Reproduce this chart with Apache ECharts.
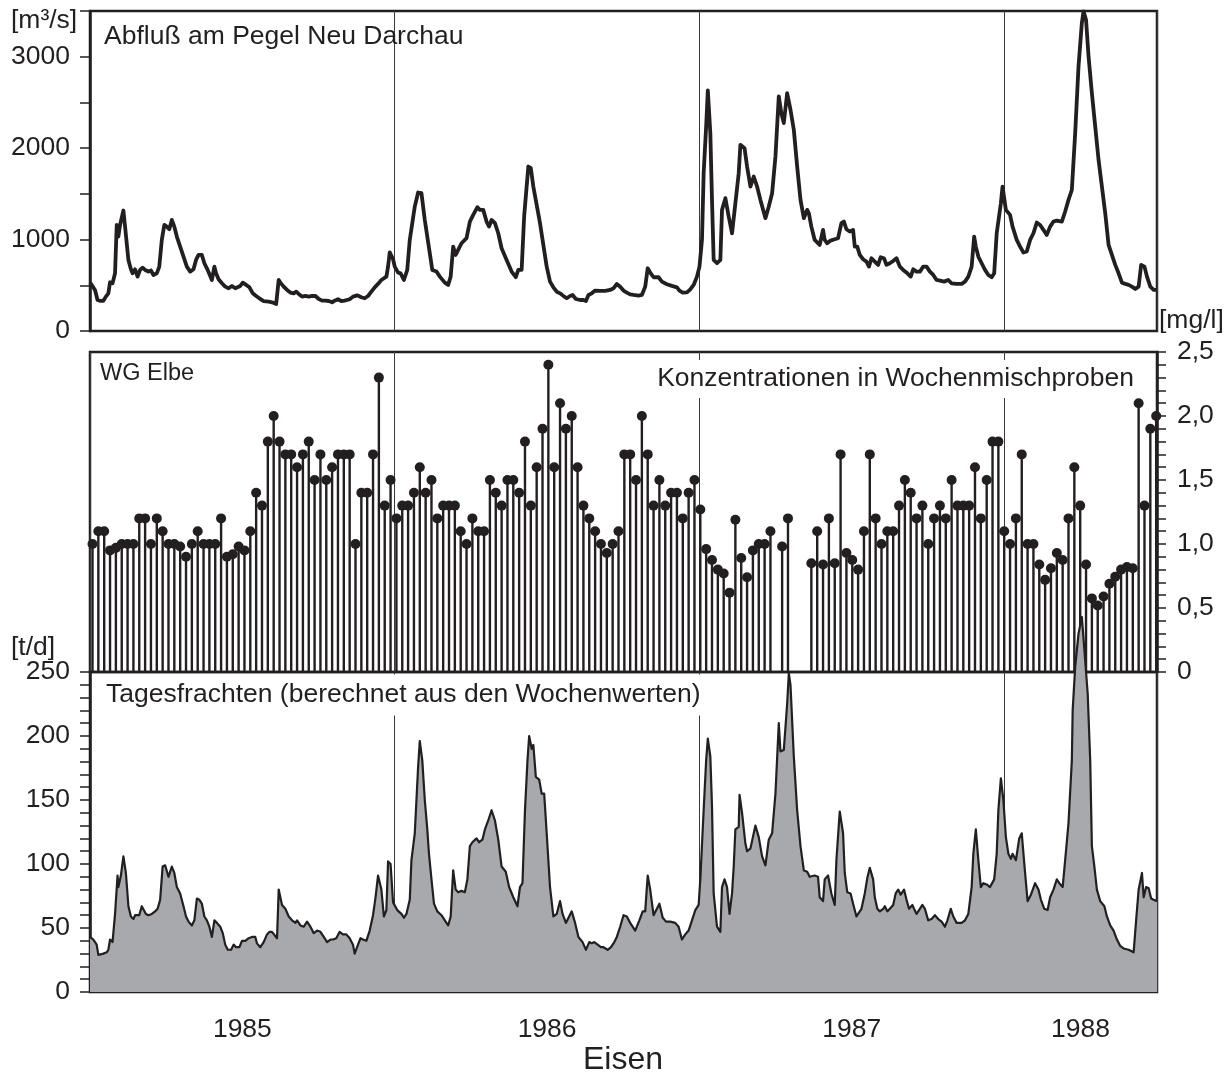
<!DOCTYPE html>
<html><head><meta charset="utf-8">
<script src="https://cdn.jsdelivr.net/npm/echarts@6/dist/echarts.min.js"></script>
<style>html,body{margin:0;padding:0;background:#fff}#c{width:1232px;height:1077px}</style>
</head><body><div id="c"></div>
<script>
const FONT = '"Liberation Sans", Arial, Helvetica, sans-serif';
const INK = '#231f20';

// x values are days since 1 Jan 1985
const xEndDay = 1278;
const yearTickLabels = ['1985', '1986', '1987', '1988'];
const yearTickDays = [182.5, 547.5, 912.5, 1186.25];

// Abfluss am Pegel Neu Darchau [m3/s]: [day, value]
const abfluss = [[0,529],[2,504],[6,449],[9,340],[12,330],[16,330],[19,376],[22,412],[24,533],[27,522],[30,631],[32,1160],[34,1033],[36,1160],[40,1318],[42,1142],[46,777],[49,675],[51,631],[54,675],[57,595],[60,668],[63,693],[66,668],[70,650],[73,661],[76,613],[80,631],[83,704],[86,996],[89,1160],[92,1142],[95,1113],[98,1215],[101,1142],[104,1033],[108,923],[112,814],[116,704],[120,650],[124,675],[127,777],[130,832],[134,832],[137,741],[140,686],[143,624],[146,558],[149,704],[151,631],[154,566],[158,522],[162,485],[166,467],[170,493],[174,467],[176,449],[180,493],[183,529],[187,504],[191,478],[195,412],[199,383],[204,350],[208,328],[214,321],[218,314],[223,296],[226,558],[228,529],[232,485],[236,449],[240,420],[244,412],[247,430],[250,405],[254,376],[258,383],[262,376],[266,383],[270,383],[274,350],[278,332],[282,332],[286,328],[290,314],[293,332],[297,347],[301,328],[305,332],[311,347],[315,376],[320,390],[325,369],[329,358],[333,383],[337,430],[341,478],[345,515],[349,558],[355,595],[357,704],[359,860],[363,785],[365,704],[369,639],[372,631],[376,558],[380,668],[383,996],[389,1361],[393,1515],[397,1507],[401,1215],[407,850],[410,668],[415,650],[419,595],[425,529],[429,504],[432,595],[435,923],[438,832],[441,887],[445,960],[451,1015],[455,1197],[459,1270],[464,1354],[467,1325],[471,1325],[475,1197],[478,1142],[481,1215],[485,1179],[489,1069],[493,905],[499,777],[505,650],[510,588],[513,668],[517,668],[520,1252],[525,1799],[528,1781],[531,1580],[539,1179],[547,704],[551,540],[555,478],[559,430],[563,412],[568,376],[571,358],[575,383],[578,394],[582,350],[587,339],[591,339],[594,328],[597,394],[601,412],[605,442],[611,438],[617,438],[623,449],[627,467],[631,515],[635,485],[639,442],[643,420],[647,401],[651,394],[657,387],[661,394],[665,485],[668,686],[671,639],[675,588],[681,588],[685,540],[691,511],[697,493],[703,478],[706,442],[710,420],[715,423],[719,456],[723,504],[727,595],[730,704],[733,996],[735,1726],[738,2237],[740,2631],[743,2164],[745,1434],[747,777],[751,741],[755,777],[757,1325],[761,1453],[765,1252],[769,1069],[773,1398],[777,1726],[779,2036],[784,2000],[787,1799],[791,1580],[795,1690],[799,1580],[803,1434],[809,1234],[813,1361],[817,1507],[821,1909],[825,2566],[828,2383],[831,2274],[835,2602],[839,2420],[843,2201],[847,1799],[851,1434],[855,1234],[859,1325],[861,1288],[864,1142],[868,996],[874,942],[878,1106],[880,996],[883,960],[887,989],[892,1004],[896,1015],[900,1179],[903,1197],[906,1113],[910,1088],[914,1106],[916,923],[919,923],[922,832],[926,785],[930,759],[933,704],[936,796],[940,759],[944,723],[947,807],[951,796],[954,723],[958,741],[962,766],[966,796],[970,704],[974,668],[979,631],[983,595],[986,675],[990,650],[994,650],[998,704],[1002,704],[1006,650],[1010,613],[1014,558],[1018,551],[1023,540],[1028,558],[1032,522],[1038,515],[1044,515],[1048,540],[1052,595],[1056,704],[1059,1033],[1061,923],[1064,814],[1068,741],[1072,668],[1076,613],[1080,588],[1083,631],[1086,1069],[1091,1398],[1093,1580],[1097,1325],[1102,1270],[1105,1142],[1110,996],[1114,923],[1118,858],[1122,869],[1126,996],[1130,1069],[1134,1186],[1138,1160],[1142,1106],[1146,1051],[1150,1142],[1154,1197],[1158,1208],[1164,1197],[1168,1307],[1172,1434],[1176,1544],[1180,2164],[1184,2894],[1188,3369],[1190,3496],[1193,3405],[1196,3004],[1200,2602],[1204,2237],[1208,1872],[1212,1580],[1216,1288],[1220,942],[1224,832],[1228,723],[1232,631],[1236,529],[1240,515],[1244,504],[1248,485],[1252,460],[1256,485],[1259,723],[1263,704],[1266,595],[1270,485],[1274,449],[1278,449]];

// Konzentrationen in Wochenmischproben [mg/l], one per week (null = no sample)
const firstSampleDay = 3;
const sampleStepDays = 7;
const konzentration = [
  1.0,1.1,1.1,0.95,0.97,1.0,1.0,1.0,1.2,1.2,
  1.0,1.2,1.1,1.0,1.0,0.98,0.9,1.0,1.1,1.0,
  1.0,1.0,1.2,0.9,0.92,0.98,0.95,1.1,1.4,1.3,
  1.8,2.0,1.8,1.7,1.7,1.6,1.7,1.8,1.5,1.7,
  1.5,1.6,1.7,1.7,1.7,1.0,1.4,1.4,1.7,2.3,
  1.3,1.5,1.2,1.3,1.3,1.4,1.6,1.4,1.5,1.2,
  1.3,1.3,1.3,1.1,1.0,1.2,1.1,1.1,1.5,1.4,
  1.3,1.5,1.5,1.4,1.8,1.3,1.6,1.9,2.4,1.6,
  2.1,1.9,2.0,1.6,1.3,1.2,1.1,1.0,0.93,1.0,
  1.1,1.7,1.7,1.5,2.0,1.7,1.3,1.5,1.3,1.4,
  1.4,1.2,1.4,1.5,1.27,0.96,0.875,0.8,0.77,0.62,
  1.19,0.89,0.74,0.95,1.0,1.0,1.1,null,0.98,1.2,
  null,null,null,0.85,1.1,0.84,1.2,0.85,1.7,0.93,
  0.875,0.8,1.1,1.7,1.2,1.0,1.1,1.1,1.3,1.5,
  1.4,1.2,1.3,1.0,1.2,1.3,1.2,1.5,1.3,1.3,
  1.3,1.6,1.2,1.5,1.8,1.8,1.1,1.0,1.2,1.7,
  1.0,1.0,0.84,0.72,0.81,0.93,0.875,1.2,1.6,1.3,
  0.84,0.575,0.52,0.59,0.69,0.745,0.8,0.82,0.81,2.1,
  1.3,1.9,2.0
];

// Tagesfrachten [t/d]: [day, value]
const tagesfracht = [[0,43],[4,41],[8,37],[10,29],[16,30],[20,31],[22,33],[24,41],[27,39],[30,61],[33,91],[34,82],[37,91],[40,106],[43,93],[46,67],[49,59],[52,57],[54,60],[56,59],[59,60],[62,67],[64,67],[67,61],[70,60],[74,61],[78,63],[81,65],[84,72],[87,98],[90,99],[94,90],[98,98],[101,93],[104,82],[108,77],[112,67],[115,59],[118,55],[122,52],[125,56],[128,73],[131,72],[134,69],[137,59],[140,56],[143,51],[146,43],[149,56],[152,54],[156,51],[159,46],[162,37],[165,33],[169,33],[172,37],[175,35],[179,35],[182,40],[186,40],[190,42],[194,43],[198,43],[200,38],[204,35],[208,39],[212,45],[215,47],[218,47],[220,48],[224,42],[226,80],[228,81],[230,68],[234,65],[238,59],[242,56],[246,54],[248,56],[252,52],[256,51],[260,55],[264,51],[268,46],[272,48],[276,47],[280,43],[284,39],[288,41],[291,41],[295,42],[299,47],[303,45],[307,45],[311,42],[315,37],[317,30],[321,37],[324,42],[327,41],[331,40],[335,48],[339,60],[342,74],[345,91],[349,80],[352,59],[355,64],[357,102],[360,100],[363,70],[368,64],[373,61],[376,58],[379,61],[383,72],[385,103],[389,124],[393,176],[395,196],[398,181],[401,150],[404,127],[406,108],[409,88],[412,69],[416,63],[421,60],[425,56],[429,52],[432,59],[435,95],[438,80],[441,78],[445,79],[449,78],[452,88],[455,114],[458,117],[463,120],[466,117],[470,119],[473,127],[477,134],[481,142],[485,134],[489,119],[493,98],[498,94],[502,82],[507,74],[512,67],[515,82],[518,85],[521,142],[524,181],[526,200],[529,190],[531,193],[534,168],[538,166],[541,155],[544,155],[547,124],[551,82],[555,59],[559,61],[563,71],[566,61],[570,54],[577,63],[581,54],[585,43],[590,39],[594,33],[598,39],[601,38],[604,39],[608,37],[612,35],[615,35],[620,33],[624,35],[628,39],[631,43],[635,51],[639,60],[643,59],[647,54],[653,48],[658,56],[662,63],[665,63],[668,91],[671,80],[675,60],[679,65],[682,69],[686,58],[690,55],[695,55],[701,54],[705,51],[709,41],[713,45],[717,48],[721,56],[725,64],[729,68],[731,88],[735,142],[738,181],[740,198],[743,184],[745,145],[747,77],[751,51],[755,47],[757,82],[760,88],[763,82],[766,61],[769,77],[771,98],[773,127],[777,129],[778,154],[781,140],[785,116],[787,110],[791,112],[797,130],[801,121],[805,106],[809,99],[813,119],[817,124],[821,155],[825,210],[827,188],[831,189],[835,225],[837,249],[839,240],[843,184],[847,142],[851,114],[855,95],[859,94],[862,90],[864,91],[868,91],[872,90],[874,74],[878,71],[880,88],[884,91],[888,77],[892,68],[894,103],[898,141],[902,124],[904,93],[907,78],[911,77],[914,69],[918,59],[920,61],[924,65],[928,77],[931,89],[934,97],[938,88],[940,74],[943,65],[946,63],[950,65],[952,67],[955,63],[958,65],[962,68],[965,77],[968,80],[971,76],[975,80],[978,72],[981,65],[985,68],[987,65],[990,61],[993,64],[997,68],[1000,65],[1004,56],[1008,57],[1012,60],[1016,57],[1020,55],[1024,51],[1027,56],[1031,65],[1034,59],[1038,54],[1044,54],[1048,56],[1052,61],[1056,82],[1058,108],[1061,127],[1064,103],[1067,82],[1070,85],[1074,84],[1078,82],[1083,88],[1086,108],[1088,142],[1091,167],[1094,150],[1097,121],[1100,108],[1103,104],[1105,108],[1109,103],[1113,120],[1116,124],[1120,93],[1123,71],[1127,76],[1132,85],[1136,80],[1139,72],[1143,65],[1147,64],[1150,74],[1154,80],[1158,88],[1161,85],[1165,82],[1168,103],[1172,132],[1176,181],[1177,220],[1180,254],[1184,280],[1188,293],[1192,259],[1195,233],[1198,181],[1200,114],[1203,98],[1206,80],[1210,71],[1215,67],[1218,59],[1222,52],[1226,48],[1230,41],[1234,36],[1238,34],[1244,33],[1250,31],[1253,56],[1256,80],[1258,80],[1260,93],[1262,74],[1265,82],[1268,81],[1271,73],[1274,72],[1278,71]];

// ---------- build ----------
const konzData = konzentration.map((v, i) => [firstSampleDay + sampleStepDays * i, v]).filter(p => p[1] !== null);

const FS = 26.5;
const gridBase = { left: 90, right: 75, height: 320, show: true, borderColor: INK, borderWidth: 2.5, containLabel: false };
const labelFont = { fontFamily: FONT, fontSize: FS, color: INK };

function xBase(gi) {
  return {
    type: 'value', gridIndex: gi, min: 0, max: xEndDay, interval: 365,
    axisLine: { show: false, onZero: false }, axisTick: { show: false }, axisLabel: { show: false },
    splitLine: { show: true, lineStyle: { color: '#3a3a3a', width: 1 } }
  };
}

const option = {
  animation: false,
  backgroundColor: '#ffffff',
  grid: [
    Object.assign({ top: 11 }, gridBase),
    Object.assign({ top: 352 }, gridBase),
    Object.assign({ top: 672 }, gridBase)
  ],
  xAxis: [
    xBase(0), xBase(1), xBase(2),
    {
      type: 'value', gridIndex: 2, min: 0, max: xEndDay, interval: 91.25, position: 'bottom',
      axisLine: { show: false, onZero: false }, axisTick: { show: false }, splitLine: { show: false },
      axisLabel: Object.assign({
        margin: 24,
        formatter: function (v) {
          for (let i = 0; i < yearTickDays.length; i++) {
            if (Math.abs(v - yearTickDays[i]) < 0.01) return yearTickLabels[i];
          }
          return '';
        }
      }, labelFont)
    }
  ],
  yAxis: [
    {
      type: 'value', gridIndex: 0, min: 0, max: 3500, interval: 500, position: 'left',
      axisLine: { show: true, onZero: false, lineStyle: { color: INK, width: 2.5 } },
      axisTick: { show: true, inside: false, length: 10, lineStyle: { color: INK, width: 1.5 } },
      splitLine: { show: false },
      axisLabel: Object.assign({ margin: 20, formatter: v => (v % 1000 === 0 ? String(v) : '') }, labelFont)
    },
    {
      type: 'value', gridIndex: 1, min: 0, max: 2.5, interval: 0.1, position: 'right',
      axisLine: { show: true, onZero: false, lineStyle: { color: INK, width: 2.5 } },
      axisTick: { show: true, inside: false, length: 9, lineStyle: { color: INK, width: 1.5 } },
      splitLine: { show: false },
      axisLabel: Object.assign({
        margin: 20,
        formatter: function (v) {
          const k = v * 2;
          if (Math.abs(k - Math.round(k)) > 1e-6) return '';
          if (Math.abs(v) < 1e-9) return '0';
          return v.toFixed(1).replace('.', ',');
        }
      }, labelFont)
    },
    {
      type: 'value', gridIndex: 2, min: 0, max: 250, interval: 10, position: 'left',
      axisLine: { show: true, onZero: false, lineStyle: { color: INK, width: 2.5 } },
      axisTick: { show: true, inside: false, length: 10, lineStyle: { color: INK, width: 1.5 } },
      splitLine: { show: false },
      axisLabel: Object.assign({ margin: 20, formatter: v => (v % 50 === 0 ? String(v) : '') }, labelFont)
    }
  ],
  series: [
    {
      name: 'Abfluss', type: 'line', xAxisIndex: 0, yAxisIndex: 0,
      data: abfluss, symbol: 'none', smooth: false,
      lineStyle: { color: INK, width: 3.8, join: 'round' }, z: 3
    },
    {
      name: 'Konzentration', type: 'bar', xAxisIndex: 1, yAxisIndex: 1,
      data: konzData, barWidth: 2.4, itemStyle: { color: INK }, z: 2
    },
    {
      name: 'Konzentration Punkte', type: 'scatter', xAxisIndex: 1, yAxisIndex: 1,
      data: konzData, symbol: 'circle', symbolSize: 10, itemStyle: { color: INK, opacity: 1 }, z: 3
    },
    {
      name: 'Tagesfracht', type: 'line', xAxisIndex: 2, yAxisIndex: 2,
      data: tagesfracht, symbol: 'none', clip: false,
      lineStyle: { color: INK, width: 2.2, join: 'round' },
      areaStyle: { color: '#a7a9ac', opacity: 1 }, z: 6
    }
  ],
  graphic: [
    { type: 'text', x: 11, y: 21, z: 10, style: { text: '[m³/s]', font: FS + 'px ' + FONT, fill: INK, align: 'left', verticalAlign: 'middle' } },
    { type: 'text', x: 104, y: 37, z: 10, style: { text: 'Abfluß am Pegel Neu Darchau', font: FS + 'px ' + FONT, fill: INK, align: 'left', verticalAlign: 'middle' } },
    { type: 'text', x: 100, y: 374, z: 10, style: { text: 'WG Elbe', font: '23.5px ' + FONT, fill: INK, align: 'left', verticalAlign: 'middle' } },
    { type: 'text', x: 1137, y: 379, z: 10, style: { text: 'Konzentrationen in Wochenmischproben', font: FS + 'px ' + FONT, fill: INK, align: 'right', verticalAlign: 'middle', backgroundColor: '#ffffff', padding: [10, 3, 1, 4] } },
    { type: 'text', x: 1159, y: 321, z: 10, style: { text: '[mg/l]', font: FS + 'px ' + FONT, fill: INK, align: 'left', verticalAlign: 'middle' } },
    { type: 'text', x: 11, y: 648, z: 10, style: { text: '[t/d]', font: FS + 'px ' + FONT, fill: INK, align: 'left', verticalAlign: 'middle' } },
    { type: 'text', x: 103, y: 695, z: 10, style: { text: 'Tagesfrachten (berechnet aus den Wochenwerten)', font: FS + 'px ' + FONT, fill: INK, align: 'left', verticalAlign: 'middle', backgroundColor: '#ffffff', padding: [9, 4, 5, 3] } },
    { type: 'text', x: 623, y: 1060, z: 10, style: { text: 'Eisen', font: '32px ' + FONT, fill: INK, align: 'center', verticalAlign: 'middle' } }
  ]
};

const chart = echarts.init(document.getElementById('c'), null, { renderer: 'canvas' });
chart.setOption(option);
</script>
</body></html>
